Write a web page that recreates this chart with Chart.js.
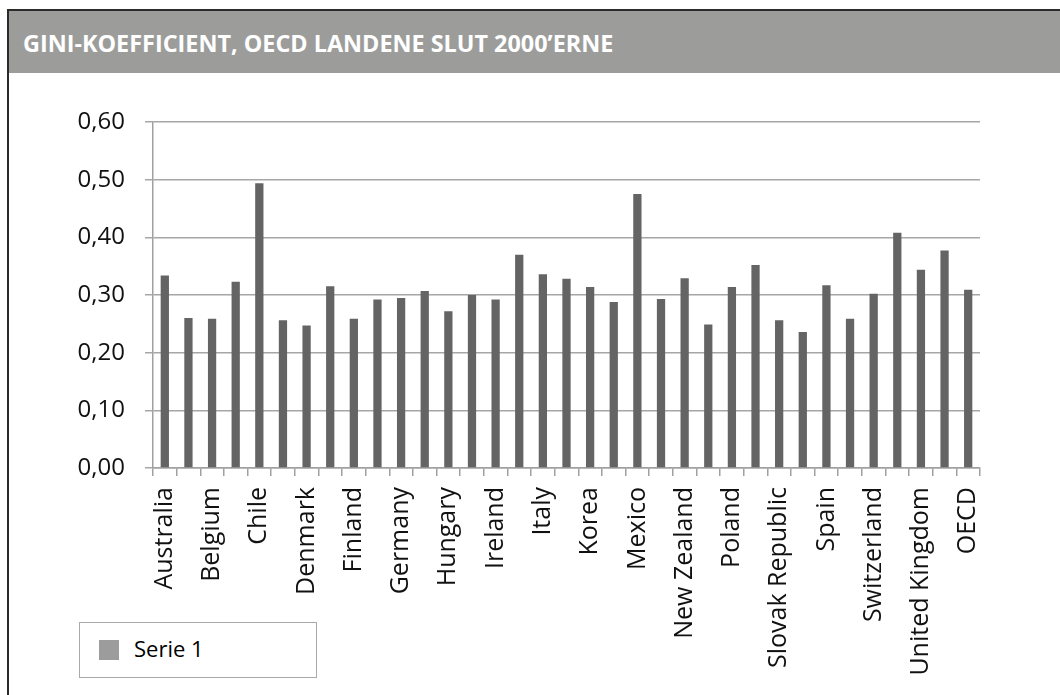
<!DOCTYPE html>
<html>
<head>
<meta charset="utf-8">
<script src="https://cdn.jsdelivr.net/npm/chart.js@4"></script>
<style>
  body { margin: 0; background: #fff; width: 1060px; height: 695px; overflow: hidden; position: relative; font-family: "Open Sans", sans-serif; }
  #frame { position: absolute; left: 7px; top: 9px; right: 0; bottom: -5px; border-top: 2px solid #2b2b2b; border-left: 2px solid #2b2b2b; }
  #header { position: absolute; left: 9px; top: 11px; right: 0; height: 62px; background: #9c9d9b; }
  #title { position: absolute; left: 23px; top: 27px; color: #fff; font-weight: bold; font-size: 23.4px; white-space: nowrap; }
  #chartBox { position: absolute; left: 0; top: 0; width: 1060px; height: 695px; }
  #legend { position: absolute; left: 79px; top: 622px; width: 236px; height: 54px; border: 1px solid #a9a9a9; background: #fff; }
  #legend .sw { position: absolute; left: 19px; top: 17px; width: 20px; height: 20px; background: #9c9c9c; }
  #legend .txt { position: absolute; left: 54px; top: 10px; font-size: 22px; color: #000; }
</style>
</head>
<body>
<div id="frame"></div>
<div id="header"></div>
<div id="title">GINI-KOEFFICIENT, OECD LANDENE SLUT 2000’ERNE</div>
<div id="chartBox"><canvas id="gini" width="1060" height="695"></canvas></div>
<div id="legend"><div class="sw"></div><div class="txt" id="legendTxt"></div></div>
<script>
const landene = ["Australia", "Austria", "Belgium", "Canada", "Chile", "Czech Republic", "Denmark",
    "Estonia", "Finland", "France", "Germany", "Greece", "Hungary", "Iceland", "Ireland", "Israel",
    "Italy", "Japan", "Korea", "Luxembourg", "Mexico", "Netherlands", "New Zealand", "Norway",
    "Poland", "Portugal", "Slovak Republic", "Slovenia", "Spain", "Sweden", "Switzerland", "Turkey",
    "United Kingdom", "United States", "OECD"];

const gini = [0.334, 0.260, 0.259, 0.323, 0.494, 0.256, 0.247,
    0.315, 0.259, 0.292, 0.295, 0.307, 0.272, 0.300, 0.292, 0.370,
    0.336, 0.328, 0.314, 0.288, 0.475, 0.293, 0.329, 0.249,
    0.314, 0.352, 0.256, 0.236, 0.317, 0.259, 0.302, 0.408,
    0.344, 0.377, 0.309];

const serieNavn = "Serie 1";
const yMin = 0, yMax = 0.6, yStep = 0.1;

document.getElementById('legendTxt').textContent = serieNavn;

let giniGraf = document.getElementById('gini');

const giniChart = new Chart(giniGraf, {
    type: 'bar',
    data: {
        labels: landene,
        datasets: [{
            label: serieNavn,
            data: gini,
            backgroundColor: '#646464',
            borderWidth: 0,
            categoryPercentage: 1,
            barPercentage: 0.35
        }]
    },
    options: {
        responsive: false,
        animation: false,
        layout: {
            padding: { left: 0, top: 122, right: 80, bottom: 0 }
        },
        plugins: {
            legend: { display: false },
            tooltip: { enabled: false }
        },
        scales: {
            x: {
                afterFit: (scale) => { scale.height = 227; },
                grid: {
                    display: true,
                    offset: true,
                    drawOnChartArea: false,
                    drawTicks: true,
                    tickLength: 8,
                    color: '#a0a0a0',
                    lineWidth: 1.5
                },
                border: { color: '#a0a0a0', width: 1.5 },
                ticks: {
                    autoSkip: false,
                    maxRotation: 90,
                    minRotation: 90,
                    padding: 11,
                    color: '#111',
                    font: { family: 'Open Sans', size: 25 },
                    callback: function (val, i) {
                        return i % 2 === 0 ? this.getLabelForValue(val) : '';
                    }
                }
            },
            y: {
                min: yMin,
                max: yMax,
                afterFit: (scale) => { scale.width = 153; },
                grid: {
                    color: '#a6a6a6',
                    lineWidth: 1.5,
                    tickLength: 8
                },
                border: { color: '#a0a0a0', width: 1.5 },
                ticks: {
                    stepSize: yStep,
                    padding: 20,
                    color: '#111',
                    font: { family: 'Open Sans', size: 24 },
                    callback: (v) => v.toFixed(2).replace('.', ',')
                }
            }
        }
    }
});
</script>
</body>
</html>
